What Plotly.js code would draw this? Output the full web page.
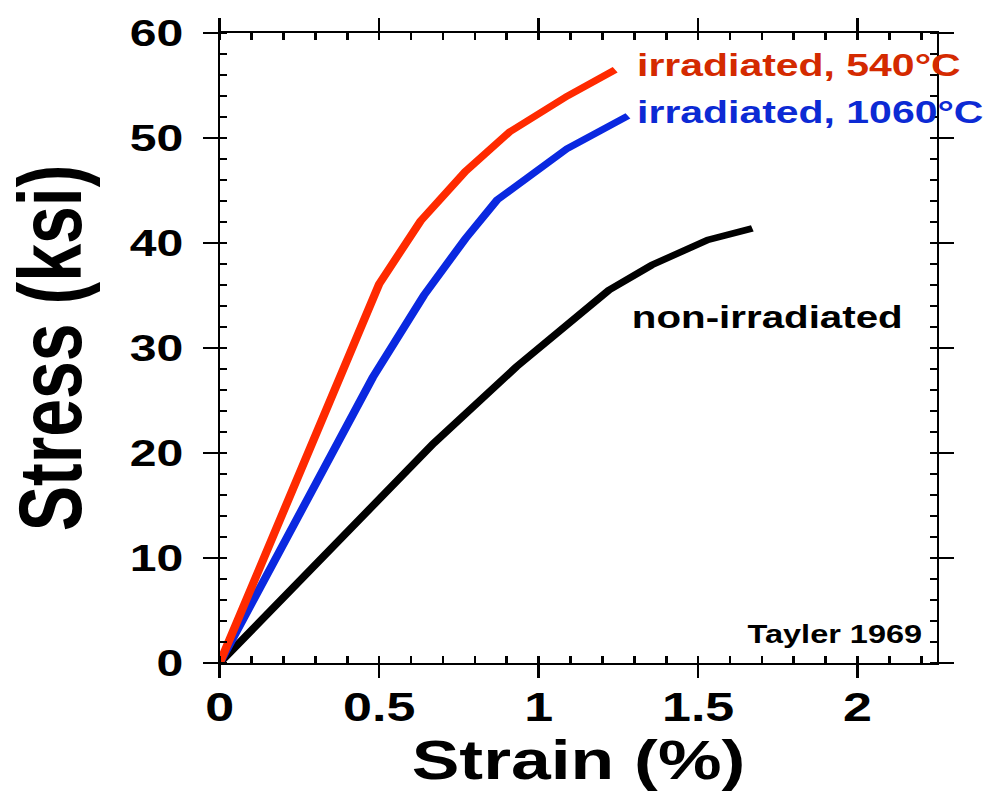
<!DOCTYPE html>
<html>
<head>
<meta charset="utf-8">
<script src="https://cdn.plot.ly/plotly-3.0.1.min.js"></script>
<style>
  html, body { margin: 0; padding: 0; background: #fff; }
  #wrap { width: 987px; height: 808px; overflow: hidden; }
  #plot { width: 759px; height: 808px; transform: scaleX(1.3); transform-origin: 0 0; }
</style>
</head>
<body>
<div id="wrap"><div id="plot"></div></div>
<script>
// ---- data ----
const strainRed = [0, 0.50, 0.63, 0.77, 0.91, 1.09, 1.24];
const stressRed = [0, 36.1, 42.1, 46.8, 50.6, 54.0, 56.5];

const strainBlue = [0, 0.48, 0.64, 0.77, 0.87, 1.09, 1.28];
const stressBlue = [0, 27.2, 35.0, 40.4, 44.1, 49.0, 52.1];

const strainBlack = [0, 0.67, 0.93, 1.22, 1.355, 1.53, 1.67];
const stressBlack = [0, 20.9, 28.2, 35.5, 37.9, 40.3, 41.4];

const seriesNames = ["irradiated, 540°C", "irradiated, 1060°C", "non-irradiated"];
const sourceNote = "Tayler 1969";

const xTickVals = [0, 0.5, 1, 1.5, 2];
const xTickText = ["0", "0.5", "1", "1.5", "2"];
const yTickVals = [0, 10, 20, 30, 40, 50, 60];
const yTickText = ["0", "10", "20", "30", "40", "50", "60"];

const xTitle = "Strain (%)";
const yTitle = "Stress (ksi)";

// ---- styles ----
const RED_LINE = "#ff2a00", RED_TEXT = "#d42a00";
const BLUE_LINE = "#0a28e0", BLUE_TEXT = "#0c2ad4";
const FONT = "Liberation Sans, Arial, Helvetica, sans-serif";

const traces = [
  { x: strainBlack, y: stressBlack, mode: "lines", name: seriesNames[2],
    line: { color: "#000", width: 6.5 }, xaxis: "x", yaxis: "y", hoverinfo: "skip" },
  { x: strainBlue, y: stressBlue, mode: "lines", name: seriesNames[1],
    line: { color: BLUE_LINE, width: 6.5 }, xaxis: "x", yaxis: "y", hoverinfo: "skip" },
  { x: strainRed, y: stressRed, mode: "lines", name: seriesNames[0],
    line: { color: RED_LINE, width: 6.5 }, xaxis: "x", yaxis: "y", hoverinfo: "skip" }
];

const xRange = [0, 2.25], yRange = [0, 60];

const layout = {
  width: 759, height: 808,
  margin: { l: 169, r: 38, t: 33, b: 145 },
  paper_bgcolor: "#fff", plot_bgcolor: "#fff",
  showlegend: false,
  font: { family: FONT, color: "#000" },
  xaxis: {
    range: xRange, tickvals: xTickVals, ticktext: xTickText,
    ticks: "outside", ticklen: 13, tickwidth: 2, tickcolor: "#000",
    showline: true, linewidth: 2, linecolor: "#000", mirror: "ticks",
    showgrid: false, zeroline: false,
    minor: { dtick: 0.1, tick0: 0, ticks: "inside", ticklen: 7, tickwidth: 2, tickcolor: "#000", showgrid: false },
    tickfont: { family: FONT, size: 40, weight: 700, color: "#000" },
    ticklabelstandoff: -5,
    title: { text: xTitle, font: { family: FONT, size: 55, weight: 700, color: "#000" }, standoff: 4 },
    automargin: false
  },
  xaxis2: {
    overlaying: "x", anchor: "y", side: "bottom", range: xRange,
    tickvals: xTickVals, showticklabels: false,
    ticks: "inside", ticklen: 13, tickwidth: 2, tickcolor: "#000",
    showline: false, mirror: "ticks", showgrid: false, zeroline: false
  },
  yaxis: {
    range: yRange, tickvals: yTickVals, ticktext: yTickText,
    ticks: "outside", ticklen: 11, tickwidth: 1.6, tickcolor: "#000",
    showline: true, linewidth: 1.6, linecolor: "#000", mirror: "ticks",
    showgrid: false, zeroline: false,
    minor: { dtick: 2, tick0: 0, ticks: "inside", ticklen: 5.5, tickwidth: 2, tickcolor: "#000", showgrid: false },
    tickfont: { family: FONT, size: 37, weight: 700, color: "#000" },
    ticklabelstandoff: 8,
    title: { text: yTitle, font: { family: FONT, size: 68, weight: 700, color: "#000" }, standoff: 30 },
    automargin: false
  },
  yaxis2: {
    overlaying: "y", anchor: "x", side: "left", range: yRange,
    tickvals: yTickVals, showticklabels: false,
    ticks: "inside", ticklen: 11, tickwidth: 2, tickcolor: "#000",
    showline: false, mirror: "ticks", showgrid: false, zeroline: false
  },
  annotations: [
    { x: 1.30, y: 57.0, xref: "x", yref: "y", xanchor: "left", yanchor: "middle",
      text: seriesNames[0], showarrow: false,
      font: { family: FONT, size: 31.5, weight: 700, color: RED_TEXT } },
    { x: 1.30, y: 52.5, xref: "x", yref: "y", xanchor: "left", yanchor: "middle",
      text: seriesNames[1], showarrow: false,
      font: { family: FONT, size: 31.5, weight: 700, color: BLUE_TEXT } },
    { x: 1.285, y: 32.9, xref: "x", yref: "y", xanchor: "left", yanchor: "middle",
      text: seriesNames[2], showarrow: false,
      font: { family: FONT, size: 31, weight: 700, color: "#000" } },
    { x: 2.21, y: 2.76, xref: "x", yref: "y", xanchor: "right", yanchor: "middle",
      text: sourceNote, showarrow: false,
      font: { family: FONT, size: 25, weight: 700, color: "#000" } }
  ]
};

Plotly.newPlot("plot", traces, layout, { displayModeBar: false, staticPlot: true });
</script>
</body>
</html>
